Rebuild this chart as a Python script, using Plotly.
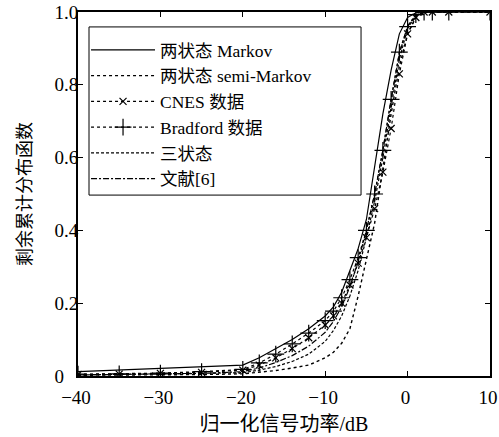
import plotly.graph_objects as go

x_db = [-40, -35, -30, -25, -20, -18, -16, -14, -12, -10, -9, -8, -7, -6, -5, -4, -3, -2, -1, 0, 1, 2, 3, 5, 10]

markov = [0.012, 0.016, 0.020, 0.025, 0.030, 0.050, 0.075, 0.100, 0.130, 0.165, 0.190, 0.230, 0.290, 0.350, 0.430, 0.570, 0.720, 0.840, 0.940, 0.985, 0.998, 1, 1, 1, 1]
semi_markov = [0.002, 0.002, 0.003, 0.004, 0.006, 0.010, 0.015, 0.022, 0.030, 0.050, 0.065, 0.090, 0.130, 0.220, 0.320, 0.420, 0.570, 0.720, 0.850, 0.940, 0.985, 1, 1, 1, 1]
cnes = [0.004, 0.005, 0.007, 0.010, 0.016, 0.030, 0.050, 0.075, 0.105, 0.140, 0.165, 0.200, 0.250, 0.310, 0.380, 0.460, 0.560, 0.680, 0.830, 0.940, 0.985, 1, 1, 1, 1]
bradford = [0.005, 0.006, 0.008, 0.012, 0.018, 0.036, 0.060, 0.088, 0.118, 0.152, 0.178, 0.215, 0.265, 0.325, 0.400, 0.500, 0.620, 0.760, 0.890, 0.960, 0.993, 1, 1, 1, 1]
three_state = [0.003, 0.004, 0.005, 0.007, 0.009, 0.016, 0.026, 0.040, 0.060, 0.095, 0.125, 0.165, 0.220, 0.290, 0.380, 0.480, 0.600, 0.740, 0.870, 0.955, 0.990, 1, 1, 1, 1]
ref6 = [0.003, 0.004, 0.005, 0.007, 0.012, 0.022, 0.037, 0.056, 0.082, 0.120, 0.150, 0.190, 0.245, 0.315, 0.400, 0.500, 0.620, 0.760, 0.885, 0.962, 0.992, 1, 1, 1, 1]

names = ["两状态 Markov", "两状态 semi-Markov", "CNES 数据", "Bradford 数据", "三状态", "文献[6]"]
x_ticks = [-40, -30, -20, -10, 0, 10]
x_tick_text = ["−40", "−30", "−20", "−10", "0", "10"]
y_ticks = [0, 0.2, 0.4, 0.6, 0.8, 1.0]
y_tick_text = ["0", "0.2", "0.4", "0.6", "0.8", "1.0"]

FONT = "Liberation Serif, Times New Roman, Noto Sans CJK SC, serif"

# display-only padding so the lone "0" sits like the reference
y_tick_disp = list(y_tick_text)
y_tick_disp[0] = y_tick_text[0] + "\u00a0\u00a0\u00a0"

fig = go.Figure()
fig.add_trace(go.Scatter(x=x_db, y=markov, name=names[0], mode="lines",
                         line=dict(color="black", width=1.2, dash="solid")))
fig.add_trace(go.Scatter(x=x_db, y=semi_markov, name=names[1], mode="lines",
                         line=dict(color="black", width=1.4, dash="dot")))
fig.add_trace(go.Scatter(x=x_db, y=cnes, name=names[2], mode="lines+markers",
                         line=dict(color="black", width=1.2, dash="dot"),
                         marker=dict(symbol="x-thin", size=7, color="black",
                                     line=dict(color="black", width=1.2))))
fig.add_trace(go.Scatter(x=x_db, y=bradford, name=names[3], mode="lines+markers",
                         line=dict(color="black", width=1.2, dash="dot"),
                         marker=dict(symbol="cross-thin", size=12, color="black",
                                     line=dict(color="black", width=1.2))))
fig.add_trace(go.Scatter(x=x_db, y=three_state, name=names[4], mode="lines",
                         line=dict(color="black", width=1.2, dash="3px,2px")))
fig.add_trace(go.Scatter(x=x_db, y=ref6, name=names[5], mode="lines",
                         line=dict(color="black", width=1.2, dash="6px,2px,2px,2px")))

axis_common = dict(showgrid=False, zeroline=False, showline=True, linecolor="black",
                   linewidth=2, mirror="ticks", ticks="inside", ticklen=5,
                   tickcolor="black", tickwidth=1, automargin=False,
                   ticklabeloverflow="allow",
                   tickfont=dict(family=FONT, size=19, color="black"))

fig.update_layout(
    width=499, height=437,
    margin=dict(l=78, r=9, t=12, b=61),
    paper_bgcolor="white", plot_bgcolor="white",
    font=dict(family=FONT, color="black"),
    xaxis=dict(range=[-40, 10], tickvals=x_ticks, ticktext=x_tick_text,
               ticklabelstandoff=3, ticklabelshift=-2,
               title=dict(text="归一化信号功率/dB", font=dict(family=FONT, size=20, color="black"), standoff=10),
               **axis_common),
    yaxis=dict(range=[0, 1.0], tickvals=y_ticks, ticktext=y_tick_disp,
               ticklabelstandoff=-6,
               title=dict(text="剩余累计分布函数", font=dict(family=FONT, size=18, color="black"), standoff=18),
               **axis_common),
    legend=dict(x=0.0195, y=0.945, xanchor="left", yanchor="top",
                bgcolor="rgba(0,0,0,0)", borderwidth=0,
                font=dict(family=FONT, size=17.5, color="black"),
                itemwidth=64, tracegroupgap=0),
    shapes=[dict(type="rect", xref="paper", yref="paper",
                 x0=0.0267, x1=0.687, y0=0.497, y1=0.959,
                 line=dict(color="black", width=1), fillcolor="white", layer="below")],
    showlegend=True,
)

fig.write_html("out.html",
               config={"displayModeBar": False},
               post_script="document.body.style.margin='0';document.body.style.padding='0';")
